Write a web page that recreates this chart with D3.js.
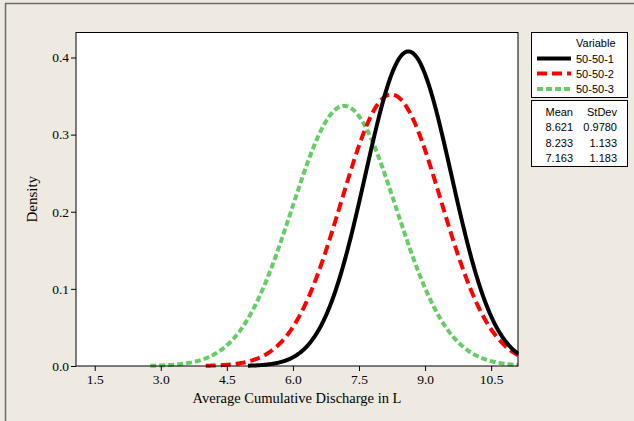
<!DOCTYPE html>
<html>
<head>
<meta charset="utf-8">
<script src="https://cdn.jsdelivr.net/npm/d3@7"></script>
<style>
html,body{margin:0;padding:0;background:#EEEAE1;}
svg{display:block;}
</style>
</head>
<body>
<svg id="chart" width="634" height="421"></svg>
<script>
// ---- data ----
const seriesNames = ["50-50-1", "50-50-2", "50-50-3"];
const means = [8.621, 8.233, 7.163];
const stdevs = [0.9780, 1.133, 1.183];
const meanLabels = ["8.621", "8.233", "7.163"];
const stdevLabels = ["0.9780", "1.133", "1.183"];
const curveStart = [4.98, 4.02, 2.76];   // where each fitted curve begins
const xTicks = [1.5, 3.0, 4.5, 6.0, 7.5, 9.0, 10.5];
const yTicks = [0.0, 0.1, 0.2, 0.3, 0.4];

const colors = ["#000000", "#FF0000", "#66CC66"];
const dashes = [null, "10,5", "6,3"];

const svg = d3.select("#chart");
const W = 634, H = 421;
const L = 76, R = 518, T = 32.5, B = 366;

// outer frame lines
svg.append("line").attr("x1",5.5).attr("x2",5.5).attr("y1",3.5).attr("y2",H).attr("stroke","#6b6b6b").attr("stroke-width",1.5);
svg.append("line").attr("x1",5).attr("x2",W).attr("y1",3.5).attr("y2",3.5).attr("stroke","#6b6b6b").attr("stroke-width",1.5);

const x = d3.scaleLinear().domain([1.075, 11.11]).range([L, R]);
const y = d3.scaleLinear().domain([0, 0.4324]).range([B, T]);

svg.append("rect").attr("x",L).attr("y",T).attr("width",R-L).attr("height",B-T).attr("fill","#fff");

svg.append("defs").append("clipPath").attr("id","clip")
  .append("rect").attr("x",L).attr("y",T-5).attr("width",R-L+1).attr("height",B-T+10);

function pdf(v, m, s){ return Math.exp(-0.5*((v-m)/s)**2)/(s*Math.sqrt(2*Math.PI)); }

const line = d3.line().x(d=>x(d[0])).y(d=>y(d[1])).curve(d3.curveLinear);
const g = svg.append("g").attr("clip-path","url(#clip)");
// draw in reverse order so black on top
[2,1,0].forEach(i=>{
  const pts = [];
  const x1 = x.domain()[1];
  const n = 300;
  for(let k=0;k<=n;k++){ const v = curveStart[i] + (x1-curveStart[i])*k/n; pts.push([v, pdf(v, means[i], stdevs[i])]); }
  g.append("path").attr("d", line(pts)).attr("fill","none")
    .attr("stroke", colors[i]).attr("stroke-width", 4)
    .attr("stroke-dasharray", dashes[i]);
});

svg.append("rect").attr("x",L).attr("y",T).attr("width",R-L).attr("height",B-T).attr("fill","none").attr("stroke","#000").attr("stroke-width",1);

const fontSerif = "'Liberation Serif','Times New Roman',serif";
const xAxis = svg.append("g").attr("transform",`translate(0,${B})`)
  .call(d3.axisBottom(x).tickValues(xTicks).tickFormat(d3.format(".1f")).tickSize(5).tickPadding(3));
const yAxis = svg.append("g").attr("transform",`translate(${L},0)`)
  .call(d3.axisLeft(y).tickValues(yTicks).tickFormat(d3.format(".1f")).tickSize(5).tickPadding(2));
[xAxis,yAxis].forEach(a=>{
  a.select(".domain").remove();
  a.selectAll("text").attr("font-family",fontSerif).attr("font-size",13.5).attr("fill","#000");
  a.selectAll("line").attr("stroke","#000");
});

svg.append("text").attr("x",(L+R)/2).attr("y",403).attr("text-anchor","middle")
  .attr("font-family",fontSerif).attr("font-size",14.5).text("Average Cumulative Discharge in L");
svg.append("text").attr("transform",`translate(37,${(T+B)/2}) rotate(-90)`).attr("text-anchor","middle")
  .attr("font-family",fontSerif).attr("font-size",15).text("Density");

// legend
const fontSans = "'Liberation Sans',Arial,sans-serif";
const lg = svg.append("g").attr("font-family",fontSans).attr("font-size",11);
lg.append("rect").attr("x",531.5).attr("y",32.5).attr("width",96).attr("height",65).attr("fill","#fff").attr("stroke","#000");
lg.append("rect").attr("x",531.5).attr("y",100.5).attr("width",96).attr("height",66).attr("fill","#fff").attr("stroke","#000");
lg.append("text").attr("x",576).attr("y",47).text("Variable");
const itemY = [58.5, 73.5, 89];
seriesNames.forEach((nm,i)=>{
  lg.append("line").attr("x1",537).attr("x2",571).attr("y1",itemY[i]).attr("y2",itemY[i])
    .attr("stroke",colors[i]).attr("stroke-width",4).attr("stroke-dasharray",dashes[i]);
  lg.append("text").attr("x",576).attr("y",itemY[i]+4).text(nm);
});
lg.append("text").attr("x",573).attr("y",116).attr("text-anchor","end").text("Mean");
lg.append("text").attr("x",617).attr("y",116).attr("text-anchor","end").text("StDev");
const rowY = [131, 146.5, 161.5];
meanLabels.forEach((m,i)=>{
  lg.append("text").attr("x",573).attr("y",rowY[i]).attr("text-anchor","end").text(m);
  lg.append("text").attr("x",617).attr("y",rowY[i]).attr("text-anchor","end").text(stdevLabels[i]);
});
</script>
</body>
</html>
